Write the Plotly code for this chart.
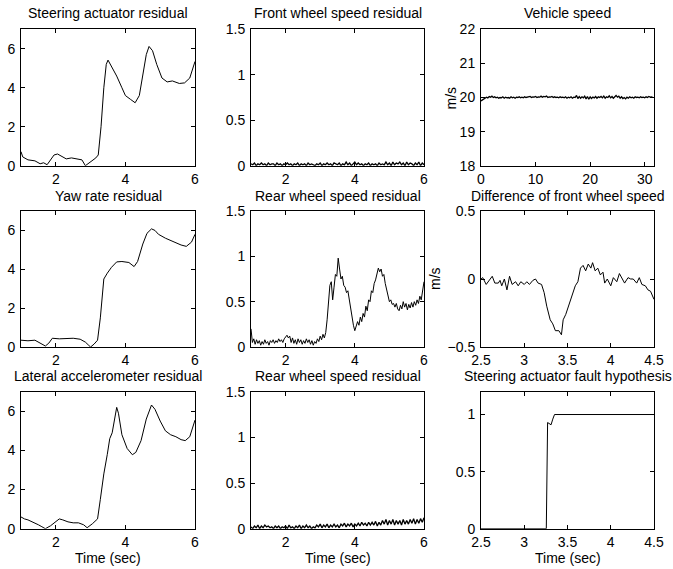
import numpy as np
import plotly.graph_objects as go

W, H = 673, 569
FONT = "Liberation Sans, Arial, Helvetica, sans-serif"
FS = 14

# ---------------- data ----------------
steer_t = [1.0, 1.05, 1.2, 1.4, 1.55, 1.65, 1.75, 1.85, 1.95, 2.05, 2.15, 2.3, 2.45, 2.6, 2.75, 2.85,
           3.0, 3.15, 3.22, 3.3, 3.38, 3.45, 3.5, 3.6, 3.75, 3.9, 4.0, 4.15, 4.28, 4.4, 4.5, 4.6,
           4.68, 4.78, 4.9, 5.05, 5.2, 5.35, 5.55, 5.7, 5.85, 6.0]
steer_r = [0.72, 0.45, 0.3, 0.25, 0.1, 0.15, 0.05, 0.3, 0.55, 0.6, 0.5, 0.35, 0.4, 0.35, 0.3, 0.0,
           0.2, 0.4, 0.55, 2.0, 4.0, 5.2, 5.42, 5.1, 4.6, 4.0, 3.6, 3.4, 3.23, 3.6, 4.6, 5.7,
           6.12, 5.9, 5.2, 4.5, 4.3, 4.35, 4.22, 4.25, 4.5, 5.35]

yaw_t = [1.0, 1.2, 1.4, 1.55, 1.7, 1.8, 1.9, 2.1, 2.3, 2.5, 2.7, 2.85, 2.95, 3.0, 3.1, 3.2, 3.28,
         3.38, 3.48, 3.6, 3.75, 3.9, 4.1, 4.25, 4.35, 4.5, 4.62, 4.75, 4.85, 4.95, 5.15, 5.35,
         5.6, 5.75, 5.9, 6.0]
yaw_r = [0.35, 0.32, 0.35, 0.2, 0.05, 0.2, 0.45, 0.42, 0.45, 0.45, 0.4, 0.25, 0.08, 0.0, 0.15, 0.35,
         1.5, 3.5, 3.8, 4.1, 4.38, 4.4, 4.35, 4.14, 4.4, 5.3, 5.85, 6.08, 6.0, 5.8, 5.6, 5.45,
         5.25, 5.18, 5.4, 5.8]

lat_t = [1.0, 1.1, 1.2, 1.3, 1.4, 1.5, 1.6, 1.7, 1.85, 2.0, 2.1, 2.2, 2.35, 2.5, 2.65, 2.8, 2.9,
         3.05, 3.2, 3.28, 3.38, 3.48, 3.55, 3.62, 3.68, 3.75, 3.8, 3.9, 4.05, 4.2, 4.3, 4.45,
         4.6, 4.75, 4.85, 5.0, 5.15, 5.3, 5.45, 5.6, 5.72, 5.85, 6.0]
lat_r = [0.6, 0.5, 0.45, 0.38, 0.3, 0.2, 0.1, 0.0, 0.15, 0.35, 0.5, 0.45, 0.35, 0.3, 0.3, 0.2, 0.05,
         0.25, 0.5, 1.5, 2.8, 3.8, 4.6, 4.9, 5.5, 6.2, 5.9, 4.8, 4.1, 3.78, 3.9, 4.5,
         5.6, 6.32, 6.1, 5.5, 5.0, 4.8, 4.7, 4.55, 4.5, 4.7, 5.55]

# front wheel speed residual, sampled every 0.05 s from t = 1
front_res = [0.02, 0.01, 0.03, 0.00, 0.02, 0.01, 0.03, 0.01, 0.02, 0.00, 0.03, 0.01, 0.02, 0.02, 0.00,
             0.03, 0.01, 0.02, 0.00, 0.02, 0.01, 0.03, 0.01, 0.02, 0.00, 0.02, 0.01, 0.03, 0.00, 0.02,
             0.01, 0.02, 0.00, 0.03, 0.01, 0.02, 0.01, 0.00, 0.02, 0.01, 0.03, 0.00, 0.02, 0.01, 0.03,
             0.01, 0.02, 0.00, 0.03, 0.02, 0.01, 0.03, 0.00, 0.02, 0.01, 0.04, 0.01, 0.03, 0.00, 0.02,
             0.04, 0.01, 0.03, 0.01, 0.02, 0.00, 0.02, 0.01, 0.03, 0.00, 0.02, 0.01, 0.02, 0.00, 0.03,
             0.01, 0.02, 0.01, 0.04, 0.01, 0.03, 0.00, 0.04, 0.01, 0.03, 0.02, 0.04, 0.01, 0.03, 0.00,
             0.04, 0.01, 0.03, 0.02, 0.00, 0.03, 0.01, 0.04, 0.00, 0.03, 0.01]

# rear wheel speed residual (middle), sampled every 0.04 s from t = 1
rear_mid = [0.20, 0.05, 0.09, 0.03, 0.08, 0.04, 0.07, 0.02, 0.06, 0.03, 0.08, 0.04, 0.06, 0.02, 0.07,
            0.05, 0.08, 0.04, 0.07, 0.05, 0.09, 0.06, 0.08, 0.05, 0.09, 0.11, 0.13, 0.10, 0.12, 0.05,
            0.10, 0.04, 0.08, 0.03, 0.09, 0.05, 0.08, 0.03, 0.07, 0.04, 0.09, 0.05, 0.08, 0.03, 0.07,
            0.02, 0.06, 0.04, 0.09, 0.06, 0.12, 0.08, 0.14, 0.10, 0.16, 0.30, 0.48, 0.68, 0.72, 0.52,
            0.66, 0.80, 0.78, 0.98, 0.86, 0.75, 0.78, 0.68, 0.66, 0.60, 0.62, 0.52, 0.45, 0.30, 0.24,
            0.18, 0.22, 0.28, 0.24, 0.33, 0.28, 0.37, 0.33, 0.45, 0.40, 0.52, 0.50, 0.62, 0.60, 0.70,
            0.74, 0.80, 0.87, 0.83, 0.86, 0.78, 0.80, 0.70, 0.64, 0.58, 0.50, 0.52, 0.47, 0.48, 0.44,
            0.48, 0.42, 0.40, 0.46, 0.42, 0.50, 0.44, 0.48, 0.41, 0.47, 0.43, 0.49, 0.44, 0.50, 0.46,
            0.52, 0.48, 0.56, 0.52, 0.62, 0.72]

# rear wheel speed residual (bottom), sampled every 0.05 s from t = 1
rear_bot = [0.02, 0.00, 0.03, 0.01, 0.04, 0.00, 0.03, 0.01, 0.04, 0.02, 0.03, 0.01, 0.02, 0.00, 0.03,
            0.01, 0.03, 0.00, 0.02, 0.01, 0.03, 0.00, 0.04, 0.01, 0.02, 0.00, 0.03, 0.01, 0.04, 0.00,
            0.03, 0.01, 0.04, 0.01, 0.03, 0.00, 0.02, 0.01, 0.04, 0.02, 0.05, 0.01, 0.04, 0.02, 0.05,
            0.01, 0.04, 0.02, 0.05, 0.02, 0.04, 0.01, 0.05, 0.03, 0.06, 0.02, 0.05, 0.03, 0.06, 0.02,
            0.05, 0.03, 0.06, 0.03, 0.07, 0.04, 0.06, 0.03, 0.07, 0.04, 0.07, 0.04, 0.08, 0.03, 0.07,
            0.04, 0.09, 0.05, 0.10, 0.04, 0.09, 0.05, 0.10, 0.04, 0.09, 0.05, 0.09, 0.04, 0.10, 0.05,
            0.09, 0.05, 0.10, 0.06, 0.11, 0.05, 0.10, 0.06, 0.11, 0.07, 0.12]

# vehicle speed, sampled every 0.25 s from t = 0
veh_speed = [19.90, 19.93, 19.95, 19.97, 20.01, 19.99, 20.03, 20.01, 20.04, 20.00, 20.02, 19.99, 20.01,
             19.98, 20.00, 19.99, 20.02, 19.98, 20.01, 19.99, 20.00, 19.98, 20.02, 19.99, 20.01, 19.98,
             20.01, 20.00, 20.02, 19.99, 20.01, 19.99, 20.02, 20.00, 20.01, 20.00, 20.03, 20.00, 20.02,
             20.01, 20.03, 20.00, 20.02, 20.01, 20.04, 20.01, 20.03, 20.02, 20.04, 20.00, 20.02, 20.01,
             20.03, 20.00, 20.02, 20.00, 20.01, 19.99, 20.02, 20.00, 20.01, 19.99, 20.02, 19.98, 20.01,
             19.99, 20.02, 19.98, 20.01, 20.00, 20.06, 19.97, 20.03, 19.98, 20.02, 19.99, 20.04, 19.96,
             20.03, 19.95, 20.02, 19.97, 20.01, 19.99, 20.03, 19.98, 20.02, 20.00, 20.03, 19.99, 20.04,
             19.98, 20.02, 20.00, 20.05, 19.99, 20.03, 19.98, 20.02, 20.06, 20.01, 20.04, 19.98, 20.02,
             19.97, 20.00, 19.96, 20.01, 19.98, 20.02, 19.99, 20.01, 19.98, 20.02, 20.00, 20.01, 19.99,
             20.02, 20.00, 20.01, 19.99, 20.02, 20.00, 20.03, 20.01, 20.02, 20.00]

diff_t = [2.5, 2.52, 2.56, 2.6, 2.63, 2.66, 2.7, 2.72, 2.74, 2.77, 2.8, 2.83, 2.86, 2.9, 2.93, 2.96,
          3.0, 3.03, 3.06, 3.1, 3.13, 3.16, 3.2, 3.23, 3.26, 3.3, 3.33, 3.36, 3.4, 3.43, 3.45, 3.48,
          3.51, 3.55, 3.59, 3.62, 3.65, 3.68, 3.71, 3.74, 3.77, 3.79, 3.82, 3.85, 3.88, 3.91, 3.93,
          3.96, 4.0, 4.03, 4.07, 4.1, 4.13, 4.16, 4.2, 4.23, 4.26, 4.3, 4.33, 4.36, 4.4, 4.43, 4.46, 4.5]
diff_v = [0.0, 0.01, -0.04, -0.01, 0.02, -0.03, -0.03, -0.01, -0.05, 0.0, -0.08, 0.02, -0.04, -0.02,
          -0.05, -0.02, -0.04, -0.02, -0.04, -0.01, 0.0, -0.03, -0.04, -0.1, -0.2, -0.3, -0.33, -0.38,
          -0.38, -0.41, -0.3, -0.26, -0.2, -0.12, -0.05, -0.02, 0.08, 0.1, 0.06, 0.11, 0.08, 0.12,
          0.06, 0.08, 0.03, 0.05, -0.03, 0.0, -0.05, 0.01, -0.02, 0.04, 0.0, -0.03, 0.01, 0.0, 0.0,
          -0.03, 0.01, -0.04, -0.05, -0.08, -0.09, -0.15]

hyp_t = [2.5, 3.255, 3.27, 3.29, 3.31, 3.33, 3.35, 4.5]
hyp_v = [0.0, 0.0, 0.93, 0.92, 0.91, 0.96, 1.0, 1.0]

titles = ["Steering actuator residual", "Front wheel speed residual", "Vehicle speed",
          "Yaw rate residual", "Rear wheel speed residual", "Difference of front wheel speed",
          "Lateral accelerometer residual", "Rear wheel speed residual", "Steering actuator fault hypothesis"]

t_front = np.round(1 + 0.05 * np.arange(len(front_res)), 3)
t_rear_mid = np.round(1 + 0.04 * np.arange(len(rear_mid)), 3)
t_rear_bot = np.round(1 + 0.05 * np.arange(len(rear_bot)), 3)
t_veh = 0.25 * np.arange(len(veh_speed))

series = [(steer_t, steer_r), (t_front, front_res), (t_veh, veh_speed),
          (yaw_t, yaw_r), (t_rear_mid, rear_mid), (diff_t, diff_v),
          (lat_t, lat_r), (t_rear_bot, rear_bot), (hyp_t, hyp_v)]
noisy = {1, 2, 7}

# ---------------- layout (pixel boxes) ----------------
cols = [(21, 195), (251, 424), (481, 654)]
rows = [(29.3, 165.7), (211, 347), (391.7, 528.7)]
title_gap = [16.5, 15.5, 15.5]

xranges = [[1, 6], [1, 6], [0, 31.7], [1, 6], [1, 6], [2.5, 4.5], [1, 6], [1, 6], [2.5, 4.5]]
xticks = [[2, 4, 6], [2, 4, 6], [0, 10, 20, 30], [2, 4, 6], [2, 4, 6], [2.5, 3, 3.5, 4, 4.5],
          [2, 4, 6], [2, 4, 6], [2.5, 3, 3.5, 4, 4.5]]
yranges = [[0, 7], [0, 1.5], [18, 22], [0, 7], [0, 1.5], [-0.5, 0.5], [0, 7], [0, 1.5], [0, 1.2]]
yticks = [[0, 2, 4, 6], [0, 0.5, 1, 1.5], [18, 19, 20, 21, 22], [0, 2, 4, 6], [0, 0.5, 1, 1.5],
          [-0.5, 0, 0.5], [0, 2, 4, 6], [0, 0.5, 1, 1.5], [0, 0.5, 1]]


def tick_text(v):
    return ("%g" % v).replace("-", "\u2212")


fig = go.Figure()
annotations = []
layout = dict(width=W, height=H, autosize=False,
              margin=dict(l=0, r=0, t=0, b=0, pad=0, autoexpand=False),
              paper_bgcolor="white", plot_bgcolor="white", showlegend=False,
              font=dict(family=FONT, size=FS, color="black"))

for k in range(9):
    r, c = divmod(k, 3)
    x0, x1 = cols[c]
    y0, y1 = rows[r]
    xs = "" if k == 0 else str(k + 1)
    xa = dict(domain=[x0 / W, x1 / W], range=xranges[k], tickvals=xticks[k],
              ticktext=[tick_text(v) for v in xticks[k]],
              ticks="inside", ticklen=4, tickcolor="black", showline=True, linecolor="black",
              linewidth=1, mirror="ticks", showgrid=False, zeroline=False, automargin=False,
              ticklabelstandoff=0,
              anchor="y" + xs, tickfont=dict(family=FONT, size=FS, color="black"))
    ya = dict(domain=[1 - y1 / H, 1 - y0 / H], range=yranges[k], tickvals=yticks[k],
              ticktext=[tick_text(v) for v in yticks[k]],
              ticks="inside", ticklen=4, tickcolor="black", showline=True, linecolor="black",
              linewidth=1, mirror="ticks", showgrid=False, zeroline=False, automargin=False,
              ticklabelstandoff=2,
              anchor="x" + xs, tickfont=dict(family=FONT, size=FS, color="black"))
    layout["xaxis" + xs] = xa
    layout["yaxis" + xs] = ya
    tx, ty = series[k]
    fig.add_trace(go.Scatter(x=list(tx), y=list(ty), mode="lines",
                             line=dict(color="black", width=1.3 if k in noisy else 1),
                             xaxis="x" + xs, yaxis="y" + xs, hoverinfo="skip"))
    annotations.append(dict(text=titles[k], x=(x0 + x1) / 2 / W, y=1 - (y0 - title_gap[r]) / H,
                            xref="paper", yref="paper", xanchor="center", yanchor="middle",
                            showarrow=False, font=dict(family=FONT, size=FS, color="black")))
    if r == 2:
        annotations.append(dict(text="Time (sec)", x=(x0 + x1) / 2 / W, y=1 - (y1 + 29) / H,
                                xref="paper", yref="paper", xanchor="center", yanchor="middle",
                                showarrow=False, font=dict(family=FONT, size=FS, color="black")))

for (yy0, yy1), off in [(rows[0], 31), (rows[1], 46)]:
    annotations.append(dict(text="m/s", x=(cols[2][0] - off) / W, y=1 - (yy0 + yy1) / 2 / H,
                            xref="paper", yref="paper", xanchor="center", yanchor="middle",
                            textangle=-90, showarrow=False,
                            font=dict(family=FONT, size=FS, color="black")))

layout["annotations"] = annotations
fig.update_layout(**layout)
fig.write_html("out.html", config={"displayModeBar": False},
               post_script="document.body.style.margin='0px';")
